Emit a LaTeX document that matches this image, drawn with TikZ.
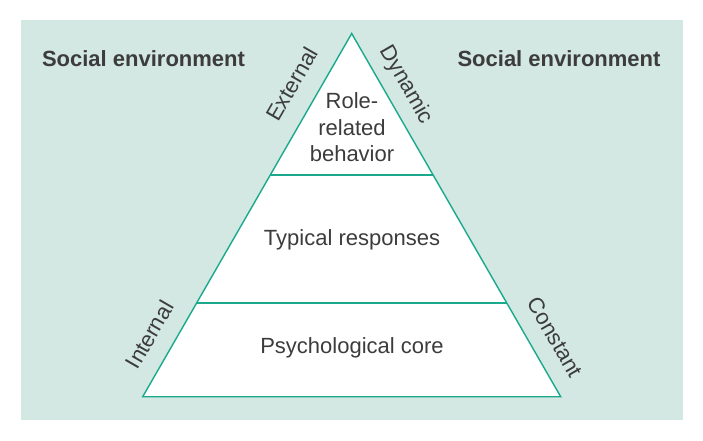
\documentclass[tikz,border=0pt]{standalone}
\usepackage{fontspec}
\setmainfont{Liberation Sans}
\usetikzlibrary{calc}
\definecolor{bgteal}{HTML}{D3E8E2}
\definecolor{lineteal}{HTML}{1AA98D}
\definecolor{txt}{HTML}{3C3C3C}
\tikzset{
  lbl/.style={text=txt, font=\fontsize{22}{26}\selectfont, inner sep=0pt},
  env/.style={text=txt, font=\fontsize{22}{26}\selectfont\bfseries, inner sep=0pt, anchor=base},
  layer/.style={text=txt, font=\fontsize{22}{26.5}\selectfont, inner sep=0pt, anchor=base, align=center},
  edge/.style={draw=lineteal, line width=1.4pt}
}
\begin{document}
\begin{tikzpicture}[x=1pt,y=-1pt]
\useasboundingbox (0,0) rectangle (703,440);
\fill[bgteal] (21,20) rectangle (683,420);
\coordinate (apex) at (351.7,33.5);
\coordinate (bl) at (142.7,396.7);
\coordinate (br) at (560.7,396.7);
\fill[white] (apex) -- (bl) -- (br) -- cycle;
\coordinate (d1l) at ($(apex)!0.3898!(bl)$);
\coordinate (d1r) at ($(apex)!0.3898!(br)$);
\coordinate (d2l) at ($(apex)!0.7416!(bl)$);
\coordinate (d2r) at ($(apex)!0.7416!(br)$);
\draw[edge, line join=miter] (apex) -- (bl) -- (br) -- cycle;
\draw[edge] (d1l) -- (d1r);
\draw[edge] (d2l) -- (d2r);
\node[env] (envl) at (143.5,66) {Social environment};
\node[env] (envr) at (559,66) {Social environment};
\node[layer] (role) at (352,161.5) {Role-\\related\\behavior};
\node[layer] (typ) at (352,245.5) {Typical responses};
\node[layer] (psy) at (352,353) {Psychological core};
\node[lbl, rotate=60] (ext) at (292,84) {External};
\node[lbl, rotate=-60] (dyn) at (406,85) {Dynamic};
\node[lbl, rotate=60] (int) at (149.5,334.5) {Internal};
\node[lbl, rotate=-60] (con) at (555,337) {Constant};
\end{tikzpicture}
\end{document}
